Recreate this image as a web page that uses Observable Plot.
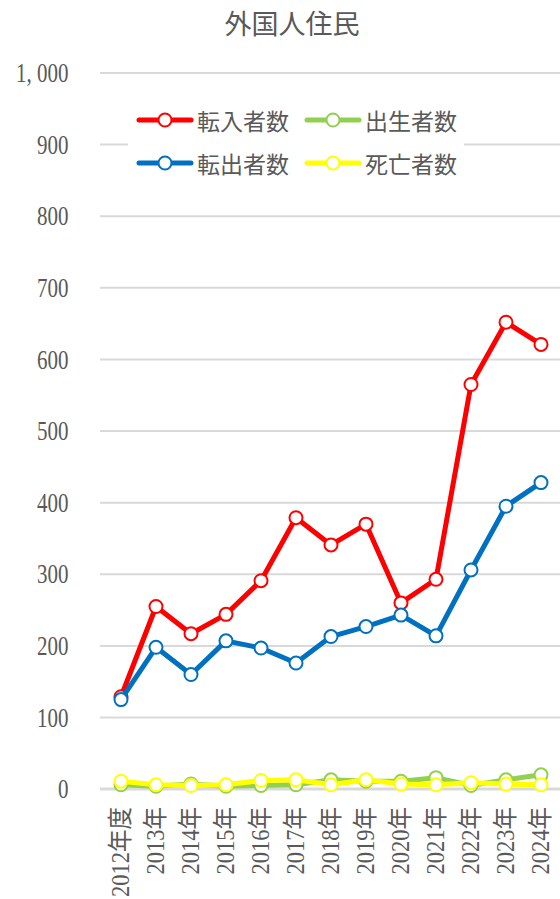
<!DOCTYPE html>
<html>
<head>
<meta charset="utf-8">
<script src="https://cdn.jsdelivr.net/npm/d3@7"></script>
<script src="https://cdn.jsdelivr.net/npm/@observablehq/plot@0.6"></script>
<style>
  html, body { margin: 0; padding: 0; background: #fff; }
  #wrap { position: relative; width: 560px; height: 899px; overflow: hidden; }
  #title { height: 45px; width: 560px; position: relative; font-family: "Noto Sans CJK JP", sans-serif; color: #595959; font-size: 27px; }
  #title span { position: absolute; left: 292px; top: 3px; transform: translateX(-50%); white-space: nowrap; }
  #legend { position: absolute; left: 128px; top: 100px; width: 336px; height: 86px; background: #fff; font-family: "Noto Sans CJK JP", sans-serif; color: #595959; font-size: 23px; }
  .item { position: absolute; display: flex; align-items: center; height: 30px; white-space: nowrap; }
  .item svg { margin-right: 3px; }
</style>
</head>
<body>
<div id="wrap">
  <div id="title"><span>外国人住民</span></div>
  <div id="chart"></div>
  <div id="legend"></div>
</div>
<script>
const title = "外国人住民";
const years = ["2012年度","2013年","2014年","2015年","2016年","2017年","2018年","2019年","2020年","2021年","2022年","2023年","2024年"];
const seriesNames = ["転入者数","転出者数","出生者数","死亡者数"];
const seriesColors = ["#FF0000","#0070C0","#92D050","#FFFF00"];
const tennyu  = [129, 255, 217, 244, 291, 379, 341, 370, 260, 293, 565, 652, 621];
const tenshutsu = [125, 198, 160, 207, 197, 176, 213, 227, 243, 214, 306, 395, 428];
const shussei = [6, 4, 7, 4, 5, 6, 13, 11, 11, 16, 5, 13, 20];
const shibou  = [11, 6, 5, 6, 12, 13, 6, 13, 7, 6, 9, 7, 6];
const yTicks = [0, 100, 200, 300, 400, 500, 600, 700, 800, 900, 1000];
const yTickLabels = ["0","100","200","300","400","500","600","700","800","900","1, 000"];
const legendOrder = ["転入者数","出生者数","転出者数","死亡者数"];

const valuesBySeries = [tennyu, tenshutsu, shussei, shibou];
const rows = [];
seriesNames.forEach((s, si) => valuesBySeries[si].forEach((v, i) => rows.push({series: s, year: years[i], value: v})));

const colorOf = s => seriesColors[seriesNames.indexOf(s)];
const marks = [
  Plot.ruleY(yTicks.filter(d => d > 0), {stroke: "#d9d9d9", strokeWidth: 2}),
  Plot.ruleY([0], {stroke: "#d9d9d9", strokeWidth: 3}),
  Plot.axisY(yTicks, {tickSize: 0, tickPadding: 32, tickFormat: (d) => yTickLabels[yTicks.indexOf(d)], fontSize: 21, fill: "#595959", fontFamily: "Liberation Serif, Noto Sans CJK JP, serif"}),
  Plot.axisX({tickSize: 0, tickRotate: -90, tickPadding: 18, fontSize: 22.5, fill: "#595959", fontFamily: "Liberation Serif, Noto Sans CJK JP, serif"})
];
seriesNames.forEach(s => {
  const data = rows.filter(r => r.series === s);
  marks.push(Plot.line(data, {x: "year", y: "value", stroke: colorOf(s), strokeWidth: 5, strokeLinejoin: "round", strokeLinecap: "round"}));
  marks.push(Plot.dot(data, {x: "year", y: "value", r: 6.5, fill: "#fff", stroke: colorOf(s), strokeWidth: 2}));
});

const chart = Plot.plot({
  width: 560, height: 854,
  marginLeft: 100, marginRight: 0, marginTop: 27.5, marginBottom: 110.4,
  style: {background: "#fff", overflow: "visible"},
  x: {type: "band", domain: years, padding: 0, label: null},
  y: {domain: [0, 1000], label: null},
  marks
});
document.getElementById("chart").appendChild(chart);

function stretch(sel, sx, sy) {
  d3.select(chart).selectAll(sel).each(function() {
    const t = d3.select(this);
    const tr = t.attr("transform");
    if (tr) t.attr("transform", tr + ` scale(${sx},${sy})`);
    else {
      const x = +t.attr("x") || 0, y = +t.attr("y") || 0;
      t.attr("x", null).attr("y", null).attr("transform", `translate(${x},${y}) scale(${sx},${sy})`);
    }
  });
}
stretch('g[aria-label="y-axis tick label"] text', 1, 1.35);
stretch('g[aria-label="x-axis tick label"] text', 1, 1.1);

// legend
const leg = document.getElementById("legend");
const pos = [[8, 5], [176, 5], [8, 48], [176, 48]];
legendOrder.forEach((s, i) => {
  const c = colorOf(s);
  const div = document.createElement("div");
  div.className = "item";
  div.style.left = pos[i][0] + "px";
  div.style.top = pos[i][1] + "px";
  div.innerHTML = `<svg width="58" height="20"><line x1="3" y1="10" x2="55" y2="10" stroke="${c}" stroke-width="5" stroke-linecap="round"/><circle cx="29" cy="10" r="6.5" fill="#fff" stroke="${c}" stroke-width="2"/></svg><span>${s}</span>`;
  leg.appendChild(div);
});
</script>
</body>
</html>
